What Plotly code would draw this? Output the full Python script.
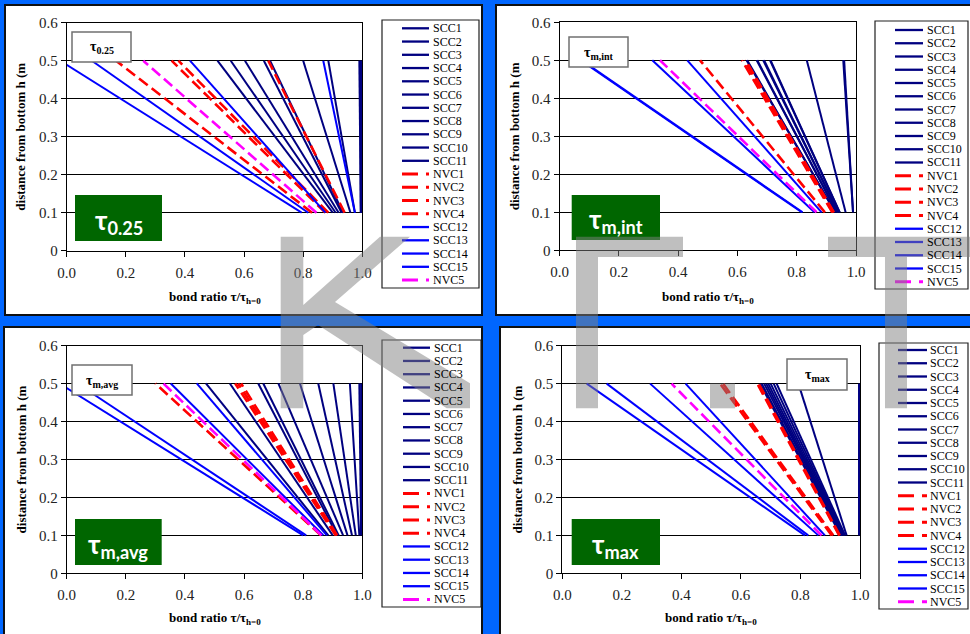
import plotly.graph_objects as go

W, H = 970, 634

# ---------------------------------------------------------------- data
SERIES = ["SCC1", "SCC2", "SCC3", "SCC4", "SCC5", "SCC6", "SCC7", "SCC8",
          "SCC9", "SCC10", "SCC11", "NVC1", "NVC2", "NVC3", "NVC4",
          "SCC12", "SCC13", "SCC14", "SCC15", "NVC5"]

# distance from bottom (m) of the two evaluation points
H_LEVELS = [0.1, 0.5]

# bond ratio tau / tau(h=0) of every series at h = 0.1 m and h = 0.5 m
T025_H01 = [0.90, 0.91, 0.92, 0.93, 0.935, 0.96, 0.975, 0.995, 0.995, 0.996, 0.996,
            0.83, 0.875, 0.885, 0.94, 0.795, 0.817, 0.875, 0.975, 0.845]
T025_H05 = [0.51, 0.555, 0.603, 0.667, 0.688, 0.80, 0.885, 0.99, 0.993, 0.995, 0.996,
            0.167, 0.355, 0.378, 0.682, -0.022, 0.085, 0.417, 0.868, 0.259]

TMINT_H01 = [0.93, 0.93, 0.935, 0.935, 0.94, 0.94, 0.945, 0.945, 0.965, 0.99, 0.99,
             0.895, 0.92, 0.925, 0.925, 0.817, 0.82, 0.86, 0.884, 0.867]
TMINT_H05 = [0.631, 0.633, 0.665, 0.667, 0.687, 0.69, 0.71, 0.712, 0.834, 0.957, 0.96,
             0.474, 0.615, 0.623, 0.628, 0.071, 0.075, 0.313, 0.431, 0.339]

TMAVG_H01 = [0.885, 0.90, 0.915, 0.92, 0.935, 0.95, 0.965, 0.978, 0.99, 0.996, 0.996,
             0.86, 0.91, 0.912, 0.915, 0.80, 0.81, 0.868, 0.88, 0.862]
TMAVG_H05 = [0.471, 0.552, 0.648, 0.665, 0.716, 0.789, 0.851, 0.902, 0.958, 0.99, 0.996,
             0.30, 0.57, 0.58, 0.59, -0.025, 0.036, 0.352, 0.44, 0.327]

TMAX_H01 = [0.935, 0.937, 0.94, 0.94, 0.942, 0.945, 0.947, 0.95, 0.955, 0.997, 0.997,
            0.905, 0.91, 0.93, 0.932, 0.815, 0.826, 0.86, 0.882, 0.871]
TMAX_H05 = [0.664, 0.67, 0.678, 0.685, 0.692, 0.70, 0.71, 0.72, 0.793, 0.997, 0.997,
            0.53, 0.54, 0.655, 0.66, 0.082, 0.149, 0.295, 0.414, 0.367]

X_TICKS = [0.0, 0.2, 0.4, 0.6, 0.8, 1.0]
Y_TICKS = [0, 0.1, 0.2, 0.3, 0.4, 0.5, 0.6]
Y_TICK_TEXT = ["0", "0.1", "0.2", "0.3", "0.4", "0.5", "0.6"]

X_TITLE = "<b>bond ratio τ/τ<sub>h=0</sub></b>"
Y_TITLE = "<b>distance from bottom h (m</b>"

# ---------------------------------------------------------------- styling
NAVY, RED, BLUE, MAGENTA = "#000080", "#FF0000", "#0000FF", "#FF00FF"
SERIF = "Liberation Serif"
BG_BLUE = "#0066FF"
GREEN = "#006600"


def series_style(name):
    if name.startswith("NVC"):
        return (MAGENTA if name == "NVC5" else RED), 2.6
    num = int(name[3:])
    return (NAVY if num <= 11 else BLUE), 2.0


def px(x):
    return x / W


def py(y):
    return 1 - y / H


# pixel geometry of the four panels
PANELS = [
    dict(h01=T025_H01, h05=T025_H05, sym="τ", sub="0.25",
         frame=(5, 5, 482, 315), plot=(66.7, 22.7, 362.3, 250.7),
         green=(75, 195, 162, 241), tag=(72, 32, 131, 62),
         legend=(382, 20, 479, 288), leg_first=28.3, leg_line=(402, 429), leg_text=431,
         ytitle_x=21, xtitle_y=297),
    dict(h01=TMINT_H01, h05=TMINT_H05, sym="τ", sub="m,int",
         frame=(496, 5, 976, 315), plot=(559.5, 22.3, 856, 250.3),
         green=(571.7, 195, 660, 240), tag=(569, 37, 628, 67),
         legend=(875, 21, 968, 289), leg_first=30, leg_line=(895, 923), leg_text=925,
         ytitle_x=514, xtitle_y=297),
    dict(h01=TMAVG_H01, h05=TMAVG_H05, sym="τ", sub="m,avg",
         frame=(4, 327, 482, 640), plot=(66.7, 345.5, 362.3, 573.3),
         green=(75, 519, 161.7, 565), tag=(72, 365, 132, 395),
         legend=(382, 340, 481, 607), leg_first=347.7, leg_line=(403, 430), leg_text=432,
         ytitle_x=21, xtitle_y=618),
    dict(h01=TMAX_H01, h05=TMAX_H05, sym="τ", sub="max",
         frame=(500, 327, 976, 640), plot=(562.3, 345.7, 860, 573.3),
         green=(571.7, 519, 660, 565), tag=(787, 359, 847, 390),
         legend=(879, 343, 968, 609), leg_first=350, leg_line=(898, 927), leg_text=928,
         ytitle_x=517, xtitle_y=618),
]
LEG_STEP = 13.25

fig = go.Figure()
shapes, annotations = [], []
layout_axes = {}

axis_common = dict(showline=True, linecolor="black", linewidth=1, mirror=True,
                   ticks="outside", ticklen=5, tickwidth=1, tickcolor="black",
                   zeroline=False, fixedrange=True, automargin=False,
                   tickfont=dict(family=SERIF, size=15, color="#222222"))

for i, p in enumerate(PANELS):
    n = i + 1
    sfx = "" if n == 1 else str(n)
    xa, ya = "x" + sfx, "y" + sfx

    # white panel with dark frame
    fx0, fy0, fx1, fy1 = p["frame"]
    shapes.append(dict(type="rect", xref="paper", yref="paper", layer="below",
                       x0=px(fx0), x1=px(fx1), y0=py(fy1), y1=py(fy0),
                       fillcolor="white", line=dict(color="#101010", width=2)))

    # series lines
    for k, name in enumerate(SERIES):
        color, width = series_style(name)
        dash = "11px,5px" if name.startswith("NVC") else "solid"
        fig.add_trace(go.Scatter(
            x=[p["h01"][k], p["h05"][k]], y=H_LEVELS, mode="lines", name=name,
            line=dict(color=color, width=width, dash=dash),
            showlegend=False, hoverinfo="skip", xaxis=xa, yaxis=ya))

    x0, y0, x1, y1 = p["plot"]
    layout_axes["xaxis" + sfx] = dict(domain=[px(x0), px(x1)], anchor=ya, range=[0, 1],
                                     tickvals=X_TICKS, tickformat=".1f", showgrid=False,
                                     ticklabelstandoff=3, **axis_common)
    layout_axes["yaxis" + sfx] = dict(domain=[py(y1), py(y0)], anchor=xa, range=[0, 0.6],
                                     tickvals=Y_TICKS, ticktext=Y_TICK_TEXT, showgrid=True,
                                     gridcolor="black", gridwidth=1, **axis_common)

    # axis titles
    annotations.append(dict(xref="paper", yref="paper", x=px((x0 + x1) / 2), y=py(p["xtitle_y"]),
                            text=X_TITLE, showarrow=False, xanchor="center", yanchor="middle",
                            font=dict(family=SERIF, size=13, color="black")))
    annotations.append(dict(xref="paper", yref="paper", x=px(p["ytitle_x"]), y=py((y0 + y1) / 2),
                            text=Y_TITLE, showarrow=False, textangle=-90,
                            xanchor="center", yanchor="middle",
                            font=dict(family=SERIF, size=13, color="black")))

    # green label
    gx0, gy0, gx1, gy1 = p["green"]
    shapes.append(dict(type="rect", xref="paper", yref="paper", layer="above",
                       x0=px(gx0), x1=px(gx1), y0=py(gy1), y1=py(gy0),
                       fillcolor=GREEN, line=dict(width=0)))
    annotations.append(dict(xref="paper", yref="paper", x=px((gx0 + gx1) / 2),
                            y=py((gy0 + gy1) / 2 + 3),
                            text=f"<b>{p['sym']}<sub>{p['sub']}</sub></b>",
                            showarrow=False, xanchor="center", yanchor="middle",
                            font=dict(family="Lato", size=26, color="white")))

    # small boxed tag inside the plot
    tx0, ty0, tx1, ty1 = p["tag"]
    shapes.append(dict(type="rect", xref="paper", yref="paper", layer="above",
                       x0=px(tx0), x1=px(tx1), y0=py(ty1), y1=py(ty0),
                       fillcolor="white", line=dict(color="#707070", width=1.5)))
    annotations.append(dict(xref="paper", yref="paper", x=px((tx0 + tx1) / 2),
                            y=py((ty0 + ty1) / 2 + 1),
                            text=(f"<b>{p['sym']}<sub><span style='font-size:10px'>"
                                  f"{p['sub']}</span></sub></b>"),
                            showarrow=False, xanchor="center", yanchor="middle",
                            font=dict(family=SERIF, size=14, color="black")))

    # legend
    lx0, ly0, lx1, ly1 = p["legend"]
    shapes.append(dict(type="rect", xref="paper", yref="paper", layer="above",
                       x0=px(lx0), x1=px(lx1), y0=py(ly1), y1=py(ly0),
                       fillcolor="white", line=dict(color="#202020", width=1.2)))
    sx0, sx1 = p["leg_line"]
    for k, name in enumerate(SERIES):
        color, width = series_style(name)
        yy = p["leg_first"] + k * LEG_STEP
        dash = "16px,8px" if name.startswith("NVC") else "solid"
        shapes.append(dict(type="line", xref="paper", yref="paper", layer="above",
                           x0=px(sx0), x1=px(sx1), y0=py(yy), y1=py(yy),
                           line=dict(color=color, width=width + 0.3, dash=dash)))
        annotations.append(dict(xref="paper", yref="paper", x=px(p["leg_text"]), y=py(yy),
                                text=name, showarrow=False, xanchor="left", yanchor="middle",
                                font=dict(family=SERIF, size=12, color="black")))

# translucent grey logo letters over the sheet
LOGO_K = [(280.7, 236.7), (303.3, 236.7), (303.3, 305), (380, 236.7), (410, 236.7),
          (335, 302), (470, 383.3), (470, 408.3), (446.7, 408.3), (318, 325),
          (303.3, 335), (303.3, 408.3), (280.7, 408.3)]
LOGO_I = [(576, 236.7), (683, 236.7), (683, 257), (598, 257), (598, 408.3), (576, 408.3)]
LOGO_DOT = [(710, 383.3), (735, 383.3), (735, 408.3), (710, 408.3)]
LOGO_T = [(828, 236.7), (976, 236.7), (976, 257), (907, 257), (907, 408.3),
          (885, 408.3), (885, 257), (828, 257)]


def poly_path(pts):
    return "M " + " L ".join(f"{px(x):.5f},{py(y):.5f}" for x, y in pts) + " Z"


for pts in (LOGO_K, LOGO_I, LOGO_DOT, LOGO_T):
    shapes.append(dict(type="path", xref="paper", yref="paper", layer="above",
                       path=poly_path(pts), fillcolor="rgba(128,128,128,0.5)",
                       line=dict(width=0)))

fig.update_layout(
    width=W, height=H, margin=dict(l=0, r=0, t=0, b=0, autoexpand=False),
    paper_bgcolor=BG_BLUE, plot_bgcolor="white",
    showlegend=False, shapes=shapes, annotations=annotations,
    **layout_axes)

fig.write_html("out.html")
